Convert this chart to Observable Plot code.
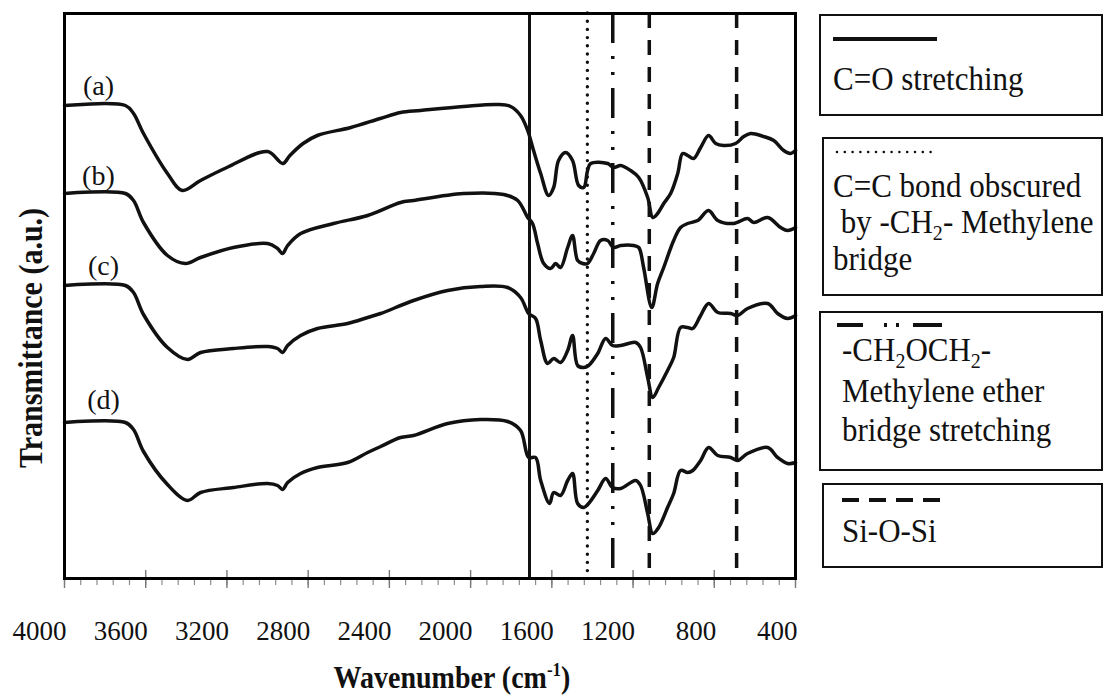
<!DOCTYPE html>
<html>
<head>
<meta charset="utf-8">
<script src="https://cdn.jsdelivr.net/npm/d3@7"></script>
<script src="https://cdn.jsdelivr.net/npm/@observablehq/plot@0.6"></script>
<style>
  body { margin: 0; background: #fff; }
  #chart { position: relative; width: 1104px; height: 698px; overflow: hidden; background: #fff; }
  #chart svg { position: absolute; left: 0; top: 0; }
</style>
</head>
<body>
<div id="chart"></div>
<script>
// FTIR spectra, [wavenumber (cm-1), transmittance (a.u., stacked)]
const spectrumA = [[4000,473],[3700,473],[3660,465],[3611,445],[3493,405],[3420,388],[3330,398],[3200,411],[3000,427],[2925,415],[2890,423],[2825,435],[2755,443],[2590,451],[2445,460],[2345,466],[2246,468],[2035,472],[1867,474],[1803,472],[1754,463],[1719,448],[1690,428],[1655,405],[1616,383],[1591,391],[1567,418],[1532,426],[1498,418],[1468,393],[1443,391],[1424,408],[1409,415],[1325,415],[1296,411],[1261,413],[1212,408],[1172,401],[1128,381],[1103,361],[1079,365],[1049,375],[1015,385],[980,405],[956,425],[931,423],[902,420],[867,431],[828,443],[793,435],[754,433],[695,435],[655,442],[621,445],[557,442],[507,438],[458,428],[424,425],[400,428]];
const spectrumB = [[4000,385],[3700,385],[3660,378],[3611,356],[3493,323],[3405,315],[3330,321],[3168,331],[3000,335],[2951,330],[2926,325],[2901,333],[2837,345],[2675,355],[2507,363],[2345,376],[2281,378],[2035,385],[1837,384],[1768,378],[1719,361],[1695,355],[1670,335],[1640,315],[1606,310],[1581,315],[1557,311],[1522,331],[1498,343],[1473,318],[1448,315],[1424,315],[1394,325],[1360,338],[1325,338],[1296,331],[1261,333],[1197,333],[1172,331],[1148,311],[1108,271],[1079,295],[1049,311],[1000,338],[966,351],[931,355],[882,358],[828,368],[783,358],[705,355],[636,360],[606,356],[537,361],[473,351],[439,348],[400,351]];
const spectrumC = [[4000,293],[3700,293],[3660,286],[3611,264],[3493,231],[3394,219],[3330,226],[3168,230],[3000,232],[2951,230],[2926,226],[2901,233],[2837,243],[2754,250],[2606,255],[2507,261],[2443,265],[2281,278],[2113,288],[1951,292],[1818,291],[1754,281],[1714,265],[1680,260],[1655,238],[1621,215],[1591,220],[1557,216],[1522,228],[1498,243],[1473,213],[1443,211],[1419,213],[1374,225],[1335,240],[1301,233],[1261,233],[1187,236],[1163,231],[1128,201],[1103,181],[1074,191],[1030,208],[1000,221],[966,251],[931,251],[906,250],[867,263],[828,275],[783,266],[719,265],[685,263],[636,270],[537,275],[488,265],[439,260],[400,263]];
const spectrumD = [[4000,156],[3700,156],[3660,149],[3611,127],[3493,94],[3394,78],[3330,86],[3168,91],[3000,95],[2951,93],[2926,89],[2901,96],[2837,105],[2754,111],[2606,116],[2507,126],[2443,132],[2345,141],[2281,143],[2113,155],[1951,159],[1818,157],[1754,148],[1714,121],[1680,121],[1655,98],[1611,75],[1591,86],[1557,83],[1522,98],[1498,105],[1473,75],[1443,71],[1419,75],[1374,88],[1335,100],[1301,91],[1261,90],[1187,98],[1163,93],[1128,65],[1103,45],[1074,51],[1030,71],[1000,85],[966,108],[931,106],[906,108],[867,118],[828,131],[783,123],[719,121],[685,118],[636,125],[537,131],[488,121],[439,115],[400,116]];

// Sample labels and where they sit above each trace
const curveLabels = ["(a)", "(b)", "(c)", "(d)"];
const labelWavenumbers = [3833, 3833, 3808, 3808];
const labelLevels = [492, 402, 312, 178];

// Band assignments (cm-1) marked across all spectra
const bandWavenumbers = [1710, 1425, 1300, 1120, 690];
const bandKinds = ["C=O", "C=C", "ether", "Si-O-Si", "Si-O-Si"];

// Axis ticks (cm-1)
const majorTicks = [4000, 3600, 3200, 2800, 2400, 2000, 1600, 1200, 800, 400];
const minorTicks = d3.range(400, 4001, 80);

// Legend entries; {n} marks a subscript
const legendKinds = ["C=O", "C=C", "ether", "Si-O-Si"];
const legendTexts = [
  ["C=O stretching"],
  ["C=C bond obscured", " by -CH{2}- Methylene", "bridge"],
  ["-CH{2}OCH{2}-", "Methylene ether", "bridge stretching"],
  ["Si-O-Si"]
];

const serif = "'Liberation Serif', 'Times New Roman', Times, serif";
const ink = "#111";
const tall = 1.1; // glyphs in this figure are drawn slightly taller than wide

const spectra = [spectrumA, spectrumB, spectrumC, spectrumD].flatMap((pts, i) =>
  pts.map(([wn, t]) => ({sample: curveLabels[i], wn, t})));
const labels = curveLabels.map((text, i) => ({text, wn: labelWavenumbers[i], t: labelLevels[i]}));
const bands = bandWavenumbers.map((wn, i) => ({wn, kind: bandKinds[i]}));
const bandsOf = (kind) => bands.filter((d) => d.kind === kind);

const chart = Plot.plot({
  width: 1104,
  height: 698,
  marginLeft: 64,
  marginRight: 309,
  marginTop: 13,
  marginBottom: 120,
  style: {fontFamily: serif, background: "transparent", color: ink},
  x: {domain: [4000, 400]},
  y: {domain: [0, 565], axis: null},
  marks: [
    Plot.axisX({ticks: minorTicks, tickSize: 7, stroke: "#8c8c8c", strokeWidth: 1.2, tickFormat: () => "", label: null}),
    Plot.axisX({ticks: majorTicks, tickSize: 18, dy: -8, stroke: "#7a7a7a", strokeWidth: 1.4, tickFormat: () => "", label: null}),
    Plot.axisX({ticks: majorTicks, tickSize: 0, tickPadding: 42, fontSize: 27, textAnchor: "end", dx: 2, fill: ink, tickFormat: (d) => String(d), label: null, ariaLabel: "wavenumber labels"}),
    Plot.ruleX(bandsOf("C=O"), {x: "wn", stroke: ink, strokeWidth: 3}),
    Plot.ruleX(bandsOf("C=C"), {x: "wn", stroke: ink, strokeWidth: 3.4, strokeLinecap: "round", strokeDasharray: "0,8.2"}),
    Plot.ruleX(bandsOf("ether"), {x: "wn", stroke: ink, strokeWidth: 3.5, strokeDasharray: "30,13,3,13,3,13"}),
    Plot.ruleX(bandsOf("Si-O-Si"), {x: "wn", stroke: ink, strokeWidth: 3.5, strokeDasharray: "15,12"}),
    Plot.line(spectra, {x: "wn", y: "t", z: "sample", stroke: ink, strokeWidth: 3.5, curve: "catmull-rom", strokeLinejoin: "round"}),
    Plot.text(labels, {x: "wn", y: "t", text: "text", fontSize: 28, fill: ink, textAnchor: "middle", lineAnchor: "middle"}),
    Plot.frame({stroke: "#000", strokeWidth: 3})
  ]
});
document.getElementById("chart").appendChild(chart);

// Stretch the wavenumber labels vertically about their own position
d3.select(chart).selectAll("g[aria-label='wavenumber labels'] text").each(function () {
  const el = d3.select(this);
  const tr = el.attr("transform") || "";
  el.attr("transform", `${tr} scale(1,${tall})`);
});

// Axis titles and the band legend
const overlay = d3.select("#chart").append("svg")
  .attr("width", 1104).attr("height", 698)
  .style("font-family", serif).style("pointer-events", "none");

overlay.append("text")
  .attr("transform", `translate(42,338) rotate(-90) scale(1,1.15)`)
  .attr("text-anchor", "middle")
  .attr("font-weight", "bold").attr("font-size", 30).attr("fill", ink)
  .text("Transmittance (a.u.)");

const xTitle = overlay.append("text")
  .attr("transform", `translate(452,688) scale(1,${tall})`)
  .attr("text-anchor", "middle")
  .attr("font-weight", "bold").attr("font-size", 28).attr("fill", ink);
xTitle.append("tspan").text("Wavenumber (cm");
xTitle.append("tspan").attr("font-size", 17).attr("dy", -11).text("-1");
xTitle.append("tspan").attr("dy", 11).text(")");

const sampleStyle = {
  "C=O": {dash: null, width: 4, cap: "butt"},
  "C=C": {dash: "0,7.8", width: 2.6, cap: "round"},
  "ether": {dash: "26,21,3,9,3,14,29", width: 4, cap: "butt"},
  "Si-O-Si": {dash: "17,10", width: 4, cap: "butt"}
};
const boxLayout = [
  {x: 820, y: 15, w: 282, h: 100, sx: [833, 937], sy: 39, tx: 833, base: [90]},
  {x: 823, y: 138, w: 279, h: 157, sx: [837, 938], sy: 152, tx: 833, base: [197, 233, 270]},
  {x: 820, y: 312, w: 282, h: 158, sx: [837, 942], sy: 325, tx: 842, base: [361, 402, 441]},
  {x: 823, y: 484, w: 279, h: 83, sx: [842, 942], sy: 500, tx: 842, base: [542]}
];

legendKinds.forEach((kind, i) => {
  const b = boxLayout[i];
  const s = sampleStyle[kind];
  overlay.append("rect")
    .attr("x", b.x).attr("y", b.y).attr("width", b.w).attr("height", b.h)
    .attr("fill", "white").attr("stroke", ink).attr("stroke-width", 2);
  overlay.append("line")
    .attr("x1", b.sx[0]).attr("x2", b.sx[1]).attr("y1", b.sy).attr("y2", b.sy)
    .attr("stroke", ink).attr("stroke-width", s.width)
    .attr("stroke-linecap", s.cap)
    .attr("stroke-dasharray", s.dash);
  legendTexts[i].forEach((line, j) => {
    const t = overlay.append("text")
      .attr("transform", `translate(${b.tx},${b.base[j]}) scale(1,${tall})`)
      .attr("font-size", 31).attr("fill", ink)
      .style("white-space", "pre");
    line.split(/\{(\d)\}/).forEach((part, k) => {
      if (!part) return;
      if (k % 2 === 1) {
        t.append("tspan").attr("font-size", 20).attr("dy", 6).text(part);
      } else {
        const span = t.append("tspan").text(part);
        if (k > 0) span.attr("dy", -6);
      }
    });
  });
});
</script>
</body>
</html>
